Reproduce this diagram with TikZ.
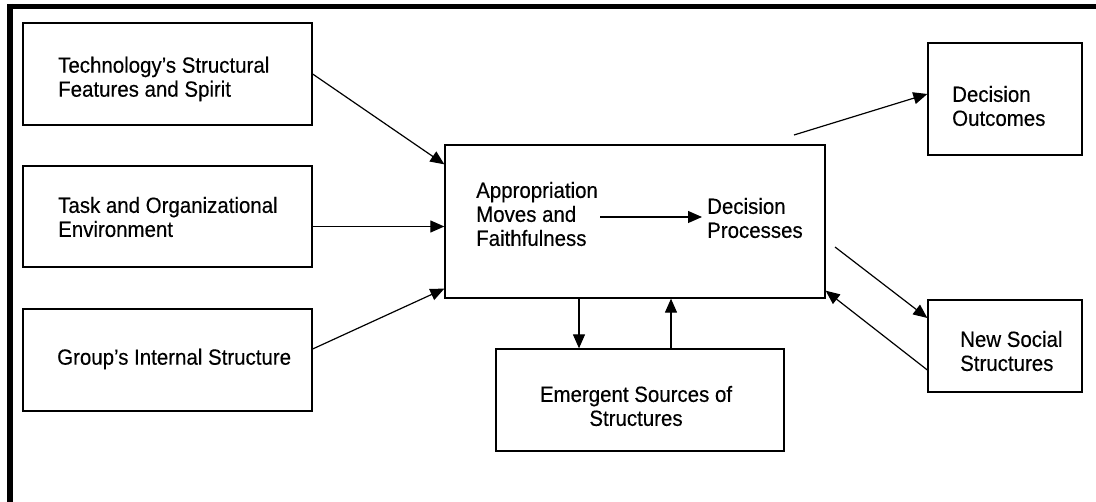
\documentclass[tikz,border=0pt]{standalone}
\usepackage{fontspec}
\setmainfont{Liberation Sans}[FakeStretch=0.93, FakeBold=0.3]
\usetikzlibrary{arrows.meta}

\begin{document}
\begin{tikzpicture}[x=1pt, y=-1pt,
    box/.style={rectangle, draw=black, line width=1.3pt, inner sep=0pt},
    txt/.style={inner sep=0pt, align=left, anchor=west, font=\fontsize{22}{24}\selectfont},
    link/.style={-{Triangle[length=14pt, width=12pt]}, line width=1.2pt},
    frame/.style={draw=black, line width=6pt}]

    \useasboundingbox (0,0) rectangle (1096,502);

    % Outer frame (top and left only)
    \draw[frame, line width=5pt] (7,6.5) -- (1096,6.5);
    \draw[frame] (10,4) -- (10,502);

    % Input boxes
    \node[box, minimum width=289pt, minimum height=102pt] (Tech) at (167.5, 74) {};
    \node[box, minimum width=289pt, minimum height=101pt] (Task) at (167.5, 216.5) {};
    \node[box, minimum width=289pt, minimum height=102pt] (Group) at (167.5, 360) {};
    \node[txt] (TechTxt) at (58, 79) {Technology’s Structural\\Features and Spirit};
    \node[txt] (TaskTxt) at (58, 217) {Task and Organizational\\Environment};
    \node[txt] (GroupTxt) at (57, 359) {Group’s Internal Structure};

    % Central box
    \node[box, minimum width=380pt, minimum height=153pt] (Appr) at (635, 221.5) {};
    \node[txt] (MovesTxt) at (476, 214) {Appropriation\\Moves and\\Faithfulness};
    \node[txt] (ProcTxt) at (707, 218) {Decision\\Processes};

    % Emergent structures
    \node[box, minimum width=288pt, minimum height=102pt] (Emerg) at (640, 400) {};
    \node[txt, align=center, anchor=center] (EmergTxt) at (636, 406) {Emergent Sources of\\Structures};

    % Outputs
    \node[box, minimum width=154pt, minimum height=112pt] (Outc) at (1005, 99) {};
    \node[box, minimum width=154pt, minimum height=92pt] (Social) at (1005, 346) {};
    \node[txt] (OutcTxt) at (952, 106) {Decision\\Outcomes};
    \node[txt] (SocialTxt) at (960, 351) {New Social\\Structures};

    % Free ends of the output arrows
    \coordinate (OutcStart) at (794, 135);
    \coordinate (SocialStart) at (835, 247);

    % Inputs into the central box
    \draw[link] (Tech.east) -- ([yshift=-20pt]Appr.north west);
    \draw[link] ([yshift=-10pt]Task.east) -- ([yshift=-10pt]Appr.west |- Task.east);
    \draw[link] ([yshift=11pt]Group.east) -- ([yshift=10pt]Appr.south west);

    % Inside the central box
    \draw[link] ([xshift=2pt, yshift=-3pt]MovesTxt.east) -- ([xshift=-5pt, yshift=-3pt]MovesTxt.east -| ProcTxt.west);

    % Loop with emergent structures
    \draw[link] ([xshift=-56pt]Appr.south) -- ([xshift=-56pt]Appr.south |- Emerg.north);
    \draw[link] ([xshift=31pt]Emerg.north) -- ([xshift=31pt]Emerg.north |- Appr.south);

    % Outputs
    \draw[link] (OutcStart) -- ([yshift=5pt]Outc.west);
    \draw[link] (SocialStart) -- ([yshift=28pt]Social.west);
    \draw[link] ([yshift=-24pt]Social.west) -- ([yshift=8pt]Appr.south east);

\end{tikzpicture}
\end{document}
